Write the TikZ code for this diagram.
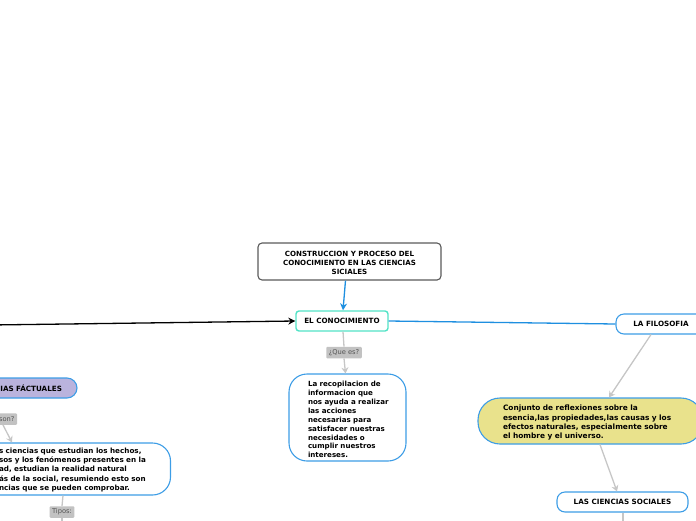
\documentclass[tikz,border=0pt]{standalone}
\usepackage{fontspec}
\setmainfont{DejaVu Sans}
\usetikzlibrary{arrows.meta,calc}
\definecolor{bblue}{HTML}{3D9DE6}
\definecolor{lblue}{HTML}{1E8FE0}
\definecolor{teal1}{HTML}{52E3C6}
\definecolor{gline}{HTML}{C6C6C6}
\definecolor{glab}{HTML}{C2C2C2}
\definecolor{glabtxt}{HTML}{555555}
\definecolor{yel}{HTML}{E9E28C}
\definecolor{lav}{HTML}{BAB3DD}
\definecolor{dgray}{HTML}{5A5A5A}
\newcommand{\lns}[2][0pt]{\raisebox{#1}[\height][\depth]{\begin{tabular}{@{}l@{}}#2\end{tabular}}}
\tikzset{
  box/.style={draw=bblue, line width=1.1pt, fill=white, font=\bfseries\fontsize{7.2}{9}\selectfont, text=black, inner sep=0pt},
  lab/.style={fill=glab, text=glabtxt, rounded corners=1pt, font=\fontsize{6.7}{7}\selectfont, inner xsep=2.5pt, inner ysep=0pt, minimum height=11.5pt},
  gcon/.style={draw=gline, line width=1.3pt},
  garr/.style={gcon, -{Stealth[length=6pt,width=7pt,inset=2pt]}},
}
\begin{document}
\begin{tikzpicture}[x=1pt,y=-1pt]
\useasboundingbox (0,0) rectangle (696,520);
\clip (0,0) rectangle (696,520);
% top node
\node[box, draw=dgray, rounded corners=4pt, minimum width=183pt, minimum height=37pt, align=center, font=\bfseries\fontsize{7.1}{9.2}\selectfont] (top) at (349.5,261.5)
  {\raisebox{-2pt}[\height][\depth]{\begin{tabular}{@{}c@{}}CONSTRUCCION Y PROCESO DEL\\CONOCIMIENTO EN LAS CIENCIAS\\SICIALES\end{tabular}}};
% el conocimiento
\node[box, draw=teal1, line width=1.4pt, rounded corners=3pt, minimum width=92pt, minimum height=20pt] (con) at (342,321) {EL CONOCIMIENTO};
% la filosofia
\node[box, rounded corners=8pt, minimum width=90pt, minimum height=20pt] (fil) at (661,324) {LA FILOSOFIA};
% incoming black arrow
\coordinate (lin) at (-10,325);
\draw[black, line width=1.3pt, -{Stealth[length=7pt,width=7pt]}] (lin) -- (con.west);
\draw[lblue, line width=1.3pt, -{Stealth[length=7pt,width=7pt]}] ([xshift=-4pt]top.south) -- ([xshift=1pt]con.north);
\draw[lblue, line width=1.3pt] (con.east) -- (fil.west);
% que es
\node[lab] (qes) at (344,352.5) {¿Que es?};
\draw[gcon] ([xshift=1pt]con.south) -- (qes.north);
\node[box, rounded corners=18pt, minimum height=87pt, text width=79pt, inner xsep=19pt, font=\bfseries\fontsize{7.1}{8.9}\selectfont] (rec) at (347.5,417.5)
  {\lns[-3pt]{La recopilacion de\\informacion que\\nos ayuda a realizar\\las acciones\\necesarias para\\satisfacer nuestras\\necesidades o\\cumplir nuestros\\intereses.}};
\draw[garr] (qes.south) -- ([xshift=-2pt]rec.north);
% yellow
\node[box, fill=yel, rounded corners=22pt, minimum height=46pt, text width=175pt, inner xsep=25pt, font=\bfseries\fontsize{7.4}{9.3}\selectfont] (yel) at (590.5,421)
  {\lns[-2pt]{Conjunto de reflexiones sobre la\\esencia,las propiedades,las causas y los\\efectos naturales, especialmente sobre\\el hombre y el universo.}};
\draw[garr] ([xshift=-10pt]fil.south) -- ([xshift=18.5pt]yel.north);
% ciencias sociales
\node[box, rounded corners=8pt, minimum width=131pt, minimum height=20pt] (cs) at (622.5,502) {LAS CIENCIAS SOCIALES};
\draw[garr] ([xshift=9.5pt]yel.south) -- ([xshift=-5.5pt]cs.north);
\coordinate (csdown) at (623,530);
\draw[gcon] ([xshift=0.5pt]cs.south) -- (csdown);
% left side
\node[box, fill=lav, rounded corners=10pt, minimum height=20pt, text width=67pt, inner xsep=15pt, align=right] (cf) at (28.5,388) {IAS FÁCTUALES};
\node[lab, text width=26pt, align=right] (son) at (1.5,419) {son?};
\node[box, rounded corners=18pt, minimum height=52pt, text width=142pt, inner xsep=29.5pt, font=\bfseries\fontsize{7.2}{9.4}\selectfont] (fac) at (70,469)
  {\lns[-1pt]{s ciencias que estudian los hechos,\\sos y los fenómenos presentes en la\\ad, estudian la realidad natural\\ás de la social, resumiendo esto son\\ncias que se pueden comprobar.}};
\draw[garr] ([xshift=1.5pt]son.south) -- ([xshift=-58pt]fac.north);
\node[lab] (tip) at (62,512) {Tipos:};
\draw[gcon] ([xshift=-7pt]fac.south) -- (tip.north);
\coordinate (tipdown) at (62,530);
\draw[gcon] (tip.south) -- (tipdown);
\end{tikzpicture}
\end{document}
